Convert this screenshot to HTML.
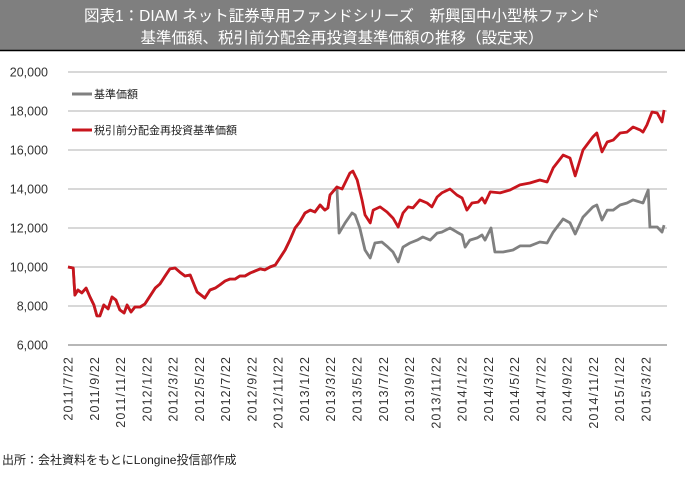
<!DOCTYPE html>
<html><head><meta charset="utf-8"><style>
html,body{margin:0;padding:0;background:#fff;}
body{width:685px;height:476px;overflow:hidden;font-family:"Liberation Sans","Noto Sans CJK JP",sans-serif;}
</style></head><body>
<svg id="c" width="685" height="476" xmlns="http://www.w3.org/2000/svg">
<rect x="0" y="0" width="685" height="50" fill="#7f7f7f"/>
<line x1="0" y1="50.5" x2="685" y2="50.5" stroke="#000" stroke-width="1.5"/>
<text x="342" y="21" text-anchor="middle" fill="#fff" font-size="15.5">図表1：DIAM  ネット証券専用ファンドシリーズ　新興国中小型株ファンド</text>
<text x="342" y="43" text-anchor="middle" fill="#fff" font-size="15.5">基準価額、税引前分配金再投資基準価額の推移（設定来）</text>
<g id="grid"></g><g id="ylab"></g><g id="xlab"></g><g id="series"></g>
<line x1="72" y1="94" x2="92" y2="94" stroke="#808080" stroke-width="3"/>
<text x="94" y="98" font-size="11" fill="#222">基準価額</text>
<line x1="72" y1="130" x2="92" y2="130" stroke="#c8151d" stroke-width="3"/>
<text x="94" y="134" font-size="11" fill="#222">税引前分配金再投資基準価額</text>
<text x="2" y="464" font-size="12" fill="#222">出所：会社資料をもとにLongine投信部作成</text>
</svg>
<script>
const yTicks=[6000,8000,10000,12000,14000,16000,18000,20000];
const xTickLabels=["2011/7/22","2011/9/22","2011/11/22","2012/1/22","2012/3/22","2012/5/22","2012/7/22","2012/9/22","2012/11/22","2013/1/22","2013/3/22","2013/5/22","2013/7/22","2013/9/22","2013/11/22","2014/1/22","2014/3/22","2014/5/22","2014/7/22","2014/9/22","2014/11/22","2015/1/22","2015/3/22"];
const redDays=[0,12,16,23,32,42,51,60,67,74,83,93,102,111,120,130,137,146,155,167,178,190,202,213,225,236,248,259,271,283,299,317,329,341,352,364,375,387,398,410,422,433,445,456,468,480,491,503,514,526,537,549,561,572,584,595,602,607,623,635,653,660,670,681,688,700,707,723,739,753,765,776,788,799,815,832,843,855,866,885,901,913,924,936,950,959,966,978,1001,1024,1047,1070,1093,1110,1124,1147,1163,1175,1193,1216,1225,1237,1249,1263,1279,1295,1309,1325,1332,1341,1353,1365,1376,1381];
const redValues=[10000,9950,8560,8820,8670,8920,8460,8050,7490,7490,8050,7850,8460,8310,7800,7640,8050,7690,7950,7950,8100,8510,8920,9130,9540,9900,9950,9740,9540,9590,8720,8410,8820,8920,9080,9280,9380,9380,9540,9540,9690,9790,9900,9850,10000,10100,10460,10870,11380,12000,12310,12770,12920,12820,13180,12920,13030,13690,14100,14000,14820,14920,14460,13440,12670,12260,12920,13080,12820,12510,12050,12770,13080,13030,13440,13280,13080,13590,13800,14000,13690,13540,12920,13280,13330,13540,13280,13850,13800,13950,14210,14310,14460,14360,15080,15740,15590,14670,16000,16670,16870,15900,16410,16510,16870,16920,17180,17030,16920,17280,17950,17900,17440,18050];
const grayDaysLate=[628,642,658,665,676,688,700,711,727,741,753,765,776,792,809,822,839,855,866,885,901,913,920,931,948,959,966,980,989,1008,1031,1047,1070,1093,1110,1124,1147,1163,1175,1193,1216,1225,1237,1249,1263,1279,1295,1309,1325,1332,1344,1348,1365,1376,1381];
const grayValuesLate=[11740,12260,12770,12670,12000,10870,10460,11230,11280,11020,10770,10260,11020,11230,11380,11540,11380,11740,11790,12000,11790,11640,11020,11380,11490,11640,11380,12000,10770,10770,10870,11080,11080,11280,11230,11790,12460,12260,11690,12560,13080,13180,12410,12920,12920,13180,13280,13440,13330,13280,13950,12050,12050,11790,12150];
const NS="http://www.w3.org/2000/svg";
const X0=68,X1=667,Y0=345,Y1=72,DAYSPAN=1339,XEND=646;
function xs(d){return X0+d/DAYSPAN*(XEND-X0);}
function ys(v){return Y0-(v-6000)/14000*(Y0-Y1);}
function mk(t,a){const e=document.createElementNS(NS,t);for(const k in a)e.setAttribute(k,a[k]);return e;}
const grid=document.getElementById('grid'),ylab=document.getElementById('ylab'),xlab=document.getElementById('xlab'),ser=document.getElementById('series');
yTicks.forEach(v=>{
  const l=mk('line',{x1:X0,x2:X1,y1:ys(v),y2:ys(v),stroke:v===6000?'#8c8c8c':'#c0c0c0','stroke-width':1.3});
  
  
  grid.appendChild(l);
  const t=mk('text',{x:48,y:ys(v)+4.5,'text-anchor':'end','font-size':12.5,fill:'#333'});
  t.textContent=v.toLocaleString('en-US');
  
  
  ylab.appendChild(t);
});
xTickLabels.forEach((s,i)=>{
  const x=X0+i*(XEND-X0)/(xTickLabels.length-1);
  const t=mk('text',{x:0,y:0,'text-anchor':'end','font-size':12.5,fill:'#333','letter-spacing':'1.1',transform:'translate('+(x+4.5)+',356) rotate(-90)'});
  t.textContent=s;
  
  
  xlab.appendChild(t);
});
const early=redDays.filter(d=>d<=623).length;
const gDays=redDays.slice(0,early).concat(grayDaysLate);
const gVals=redValues.slice(0,early).concat(grayValuesLate);
function path(ds,vs,col,name){
  const p=mk('path',{d:ds.map((d,i)=>(i?'L':'M')+xs(d).toFixed(1)+','+ys(vs[i]).toFixed(1)).join(''),fill:'none',stroke:col,'stroke-width':2.8,'stroke-linejoin':'round'});
  
  
  ser.appendChild(p);
}
path(gDays,gVals,'#808080','nav-line');
path(redDays,redValues,'#c8151d','reinvested-nav-line');
</script>
</body></html>
